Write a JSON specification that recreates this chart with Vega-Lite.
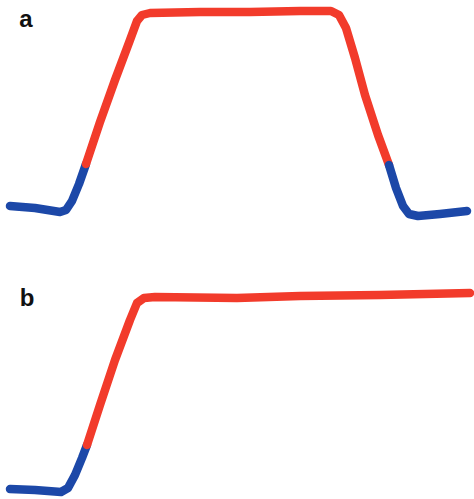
{
  "$schema": "https://vega.github.io/schema/vega-lite/v6.json",
  "padding": 0,
  "spacing": 0,
  "background": "white",
  "config": {"view": {"stroke": null}, "concat": {"spacing": 0}},
  "datasets": {
    "curves": [
      {"panel": "a", "seg": "a1", "phase": "low", "t": 10, "v": 44},
      {"panel": "a", "seg": "a1", "phase": "low", "t": 35, "v": 42},
      {"panel": "a", "seg": "a1", "phase": "low", "t": 60, "v": 38},
      {"panel": "a", "seg": "a1", "phase": "low", "t": 66, "v": 40},
      {"panel": "a", "seg": "a1", "phase": "low", "t": 72, "v": 49},
      {"panel": "a", "seg": "a1", "phase": "low", "t": 79, "v": 66},
      {"panel": "a", "seg": "a1", "phase": "low", "t": 86, "v": 86},
      {"panel": "a", "seg": "a2", "phase": "high", "t": 86, "v": 86},
      {"panel": "a", "seg": "a2", "phase": "high", "t": 100, "v": 128},
      {"panel": "a", "seg": "a2", "phase": "high", "t": 115, "v": 170},
      {"panel": "a", "seg": "a2", "phase": "high", "t": 130, "v": 210},
      {"panel": "a", "seg": "a2", "phase": "high", "t": 137, "v": 229},
      {"panel": "a", "seg": "a2", "phase": "high", "t": 142, "v": 235},
      {"panel": "a", "seg": "a2", "phase": "high", "t": 150, "v": 237},
      {"panel": "a", "seg": "a2", "phase": "high", "t": 200, "v": 238},
      {"panel": "a", "seg": "a2", "phase": "high", "t": 250, "v": 238},
      {"panel": "a", "seg": "a2", "phase": "high", "t": 300, "v": 239},
      {"panel": "a", "seg": "a2", "phase": "high", "t": 331, "v": 239},
      {"panel": "a", "seg": "a2", "phase": "high", "t": 339, "v": 235},
      {"panel": "a", "seg": "a2", "phase": "high", "t": 346, "v": 222},
      {"panel": "a", "seg": "a2", "phase": "high", "t": 355, "v": 192},
      {"panel": "a", "seg": "a2", "phase": "high", "t": 365, "v": 155},
      {"panel": "a", "seg": "a2", "phase": "high", "t": 378, "v": 115},
      {"panel": "a", "seg": "a2", "phase": "high", "t": 389, "v": 85},
      {"panel": "a", "seg": "a3", "phase": "low", "t": 389, "v": 85},
      {"panel": "a", "seg": "a3", "phase": "low", "t": 396, "v": 62},
      {"panel": "a", "seg": "a3", "phase": "low", "t": 403, "v": 44},
      {"panel": "a", "seg": "a3", "phase": "low", "t": 409, "v": 36},
      {"panel": "a", "seg": "a3", "phase": "low", "t": 418, "v": 34},
      {"panel": "a", "seg": "a3", "phase": "low", "t": 440, "v": 36},
      {"panel": "a", "seg": "a3", "phase": "low", "t": 467, "v": 39},
      {"panel": "b", "seg": "b1", "phase": "low", "t": 10, "v": 10},
      {"panel": "b", "seg": "b1", "phase": "low", "t": 35, "v": 9},
      {"panel": "b", "seg": "b1", "phase": "low", "t": 61, "v": 7},
      {"panel": "b", "seg": "b1", "phase": "low", "t": 68, "v": 11},
      {"panel": "b", "seg": "b1", "phase": "low", "t": 75, "v": 24},
      {"panel": "b", "seg": "b1", "phase": "low", "t": 82, "v": 41},
      {"panel": "b", "seg": "b1", "phase": "low", "t": 87, "v": 54},
      {"panel": "b", "seg": "b2", "phase": "high", "t": 87, "v": 54},
      {"panel": "b", "seg": "b2", "phase": "high", "t": 100, "v": 94},
      {"panel": "b", "seg": "b2", "phase": "high", "t": 115, "v": 139},
      {"panel": "b", "seg": "b2", "phase": "high", "t": 130, "v": 179},
      {"panel": "b", "seg": "b2", "phase": "high", "t": 137, "v": 196},
      {"panel": "b", "seg": "b2", "phase": "high", "t": 144, "v": 201},
      {"panel": "b", "seg": "b2", "phase": "high", "t": 155, "v": 202},
      {"panel": "b", "seg": "b2", "phase": "high", "t": 237, "v": 201},
      {"panel": "b", "seg": "b2", "phase": "high", "t": 300, "v": 203},
      {"panel": "b", "seg": "b2", "phase": "high", "t": 380, "v": 204},
      {"panel": "b", "seg": "b2", "phase": "high", "t": 470, "v": 206}
    ],
    "labels": [
      {"panel": "a", "t": 26, "v": 223, "label": "a"},
      {"panel": "b", "t": 27, "v": 193, "label": "b"}
    ]
  },
  "vconcat": [
    {
      "width": 474,
      "height": 250,
      "layer": [
        {
          "data": {"name": "curves"},
          "transform": [{"filter": "datum.panel === 'a'"}],
          "mark": {"type": "line", "strokeWidth": 8.5, "strokeCap": "round", "strokeJoin": "round"},
          "encoding": {
            "x": {"field": "t", "type": "quantitative", "scale": {"domain": [0, 474], "nice": false, "zero": false}, "axis": null},
            "y": {"field": "v", "type": "quantitative", "scale": {"domain": [0, 250], "nice": false, "zero": false}, "axis": null},
            "detail": {"field": "seg"},
            "color": {"field": "phase", "type": "nominal", "scale": {"domain": ["low", "high"], "range": ["#1c48a8", "#f23b2b"]}, "legend": null}
          }
        },
        {
          "data": {"name": "labels"},
          "transform": [{"filter": "datum.panel === 'a'"}],
          "mark": {"type": "text", "font": "Liberation Sans", "fontWeight": "bold", "fontSize": 24, "baseline": "alphabetic", "align": "center", "color": "#111"},
          "encoding": {
            "x": {"field": "t", "type": "quantitative"},
            "y": {"field": "v", "type": "quantitative"},
            "text": {"field": "label"}
          }
        }
      ]
    },
    {
      "width": 474,
      "height": 249,
      "layer": [
        {
          "data": {"name": "curves"},
          "transform": [{"filter": "datum.panel === 'b'"}],
          "mark": {"type": "line", "strokeWidth": 8.5, "strokeCap": "round", "strokeJoin": "round"},
          "encoding": {
            "x": {"field": "t", "type": "quantitative", "scale": {"domain": [0, 474], "nice": false, "zero": false}, "axis": null},
            "y": {"field": "v", "type": "quantitative", "scale": {"domain": [0, 249], "nice": false, "zero": false}, "axis": null},
            "detail": {"field": "seg"},
            "color": {"field": "phase", "type": "nominal", "scale": {"domain": ["low", "high"], "range": ["#1c48a8", "#f23b2b"]}, "legend": null}
          }
        },
        {
          "data": {"name": "labels"},
          "transform": [{"filter": "datum.panel === 'b'"}],
          "mark": {"type": "text", "font": "Liberation Sans", "fontWeight": "bold", "fontSize": 24, "baseline": "alphabetic", "align": "center", "color": "#111"},
          "encoding": {
            "x": {"field": "t", "type": "quantitative"},
            "y": {"field": "v", "type": "quantitative"},
            "text": {"field": "label"}
          }
        }
      ]
    }
  ]
}
